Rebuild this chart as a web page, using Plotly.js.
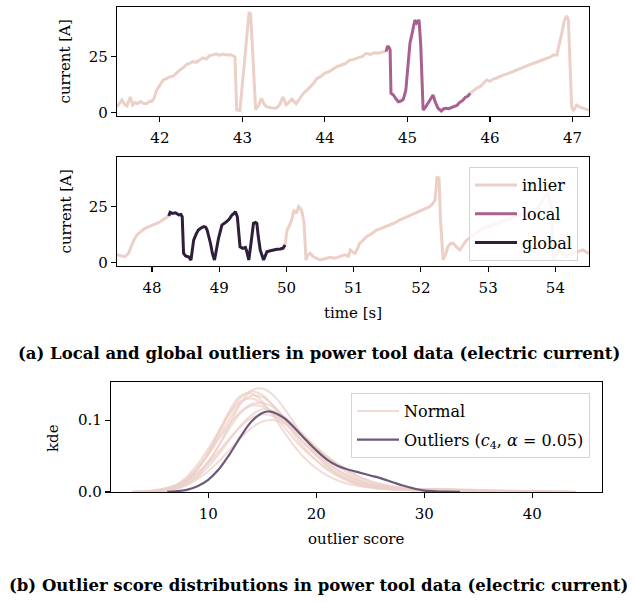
<!DOCTYPE html>
<html>
<head>
<meta charset="utf-8">
<script src="https://cdn.plot.ly/plotly-3.0.1.min.js"></script>
<style>html,body{margin:0;padding:0;background:#fff;}#chart{width:637px;height:602px;}</style>
</head>
<body>
<div id="chart"></div>
<script>
// ---------- (a) top panel: time series 41.5 s - 47.2 s ----------
const topInlierA_t = [41.48,41.51,41.54,41.57,41.60,41.64,41.67,41.70,41.73,41.76,41.80,41.84,41.87,41.90,41.93,41.96,42.00,42.04,42.08,42.12,42.16,42.20,42.24,42.28,42.32,42.36,42.40,42.44,42.48,42.52,42.56,42.60,42.64,42.68,42.72,42.76,42.81,42.86,42.91,42.93,42.97,43.08,43.10,43.16,43.20,43.23,43.26,43.29,43.35,43.41,43.45,43.49,43.53,43.56,43.60,43.65,43.70,43.74,43.78,43.82,43.86,43.90,43.94,44.00,44.05,44.10,44.14,44.20,44.25,44.30,44.35,44.40,44.45,44.50,44.55,44.60,44.64,44.69,44.74];
const topInlierA_v = [2.7,4.5,5.7,3.8,3.0,7.0,3.5,4.6,4.0,5.0,4.2,4.0,5.0,5.0,6.5,10.0,12.5,14.6,15.2,16.0,16.3,17.8,19.0,20.0,21.5,22.0,22.8,22.5,23.5,24.5,24.0,25.5,25.8,26.3,25.6,26.2,25.8,25.9,25.0,1.2,1.0,44.8,44.0,1.5,3.5,6.4,4.0,2.7,2.2,2.0,3.5,7.0,3.5,4.5,6.0,4.0,6.5,8.7,10.0,11.6,13.0,15.2,16.0,17.7,18.3,19.5,20.5,21.3,22.0,23.5,23.8,24.5,25.0,26.5,26.0,26.8,26.6,27.0,27.3];
const topLocal_t = [44.74,44.76,44.78,44.79,44.80,44.83,44.86,44.89,44.92,44.95,44.98,45.00,45.03,45.06,45.09,45.11,45.14,45.16,45.19,45.22,45.25,45.28,45.31,45.34,45.37,45.41,45.44,45.47,45.50,45.53,45.56,45.60,45.63,45.67,45.70,45.73,45.76];
const topLocal_v = [27.3,29.8,29.0,28.0,8.7,7.9,6.2,4.9,5.2,6.0,10.0,20.0,31.0,36.0,41.4,40.0,41.4,31.0,1.2,2.5,4.2,6.0,7.9,4.5,2.0,0.8,1.8,2.0,1.8,2.3,2.7,3.2,4.5,5.5,6.8,7.3,8.7];
const topInlierB_t = [45.76,45.80,45.84,45.88,45.92,45.96,46.00,46.04,46.08,46.12,46.16,46.20,46.25,46.30,46.35,46.40,46.44,46.49,46.54,46.59,46.64,46.69,46.73,46.77,46.81,46.84,46.87,46.90,46.93,46.95,46.97,46.99,47.01,47.05,47.09,47.13,47.17,47.20];
const topInlierB_v = [8.7,10.0,11.0,11.6,13.0,14.6,14.0,15.0,15.5,16.2,16.8,17.2,18.0,18.8,19.6,20.5,20.8,21.6,22.2,23.0,23.5,24.3,24.8,25.8,25.8,30.0,35.4,41.0,43.2,41.4,20.0,2.7,0.8,3.4,2.5,2.0,1.5,1.2];

// ---------- (a) middle panel: time series 47.5 s - 54.5 s ----------
const midInlierA_t = [47.48,47.50,47.55,47.60,47.65,47.70,47.73,47.78,47.83,47.88,47.93,47.97,48.02,48.07,48.12,48.17,48.21,48.25];
const midInlierA_v = [3.4,3.4,3.0,2.7,4.2,7.5,10.1,12.5,13.8,15.0,15.8,16.2,16.8,17.5,18.3,19.2,20.0,20.8];
const midGlobal_t = [48.25,48.27,48.30,48.35,48.40,48.43,48.45,48.47,48.50,48.52,48.55,48.58,48.62,48.66,48.69,48.73,48.77,48.80,48.82,48.87,48.90,48.93,48.96,48.99,49.04,49.08,49.11,49.15,49.19,49.22,49.24,49.27,49.31,49.35,49.39,49.41,49.44,49.47,49.51,49.54,49.56,49.58,49.61,49.66,49.71,49.76,49.81,49.86,49.91,49.95,49.98];
const midGlobal_v = [20.8,22.5,22.0,22.3,21.3,21.5,20.5,4.2,3.0,2.7,2.5,1.2,10.1,13.0,14.6,15.5,16.1,15.8,14.6,8.7,4.0,1.2,6.0,10.9,16.8,17.5,18.3,19.5,21.3,22.0,22.8,20.5,7.1,6.4,6.8,5.0,1.2,8.0,17.6,18.0,17.6,12.0,5.7,1.2,4.9,5.3,5.7,6.0,6.1,6.5,7.9];
const midInlierB_t = [49.98,50.01,50.05,50.08,50.11,50.15,50.18,50.20,50.23,50.26,50.28,50.29,50.32,50.35,50.40,50.45,50.50,50.57,50.65,50.72,50.80,50.87,50.92,50.95,51.00,51.02,51.06,51.09,51.14,51.19,51.26,51.34,51.40,51.47,51.54,51.61,51.69,51.76,51.83,51.89,51.96,52.03,52.08,52.13,52.18,52.21,52.24,52.27,52.29,52.33,52.37,52.40,52.44,52.48,52.53,52.58,52.63,52.68,52.75,52.81,52.88,52.94,53.00,53.07,53.14,53.21,53.27,53.34,53.40,53.47,53.54,53.61,53.67,53.74,53.80,53.85,53.89,53.92,53.94,53.97,54.01,54.06,54.11,54.16,54.22,54.28,54.34,54.41,54.46,54.50];
const midInlierB_v = [7.9,14.6,17.0,19.1,23.5,22.0,25.0,24.5,22.8,18.3,8.0,1.2,3.5,4.2,2.7,2.0,1.2,1.8,2.4,2.0,2.7,3.5,2.9,5.7,4.5,4.2,6.5,8.7,10.0,11.6,12.8,14.6,15.2,16.0,16.8,17.8,19.1,20.0,21.0,22.0,22.8,23.5,24.3,25.0,26.5,28.0,38.4,37.7,20.0,1.2,4.0,7.1,8.5,8.7,7.0,5.7,8.0,10.1,11.5,13.0,14.6,15.5,16.0,16.8,17.5,18.5,19.1,20.0,20.5,21.3,22.0,22.8,23.5,24.5,27.0,30.2,31.0,28.0,25.0,1.2,3.0,5.7,4.0,2.7,3.5,4.5,5.0,5.7,4.8,4.2];

// ---------- (b) KDE of outlier scores ----------
const kdeX = [3,5,7,8,9,10,11,12,13,14,15,16,17,18,19,20,21,22,23,24,25,26,28,30,32,34,37,40,44];
const kdeNormal1  = [0,0.0005,0.004,0.010,0.022,0.040,0.065,0.095,0.123,0.141,0.144,0.135,0.117,0.095,0.072,0.052,0.036,0.024,0.016,0.010,0.007,0.005,0.003,0.002,0.002,0.001,0.0005,0.0003,0];
const kdeNormal2  = [0,0.001,0.007,0.016,0.032,0.054,0.082,0.110,0.131,0.140,0.135,0.120,0.100,0.079,0.060,0.044,0.031,0.022,0.015,0.010,0.007,0.005,0.003,0.002,0.001,0.0008,0.0004,0.0002,0];
const kdeNormal3  = [0.0003,0.0015,0.008,0.017,0.032,0.052,0.077,0.102,0.124,0.134,0.132,0.121,0.104,0.085,0.066,0.050,0.037,0.027,0.019,0.013,0.009,0.006,0.004,0.003,0.003,0.002,0.001,0.0005,0];
const kdeNormal4  = [0.0003,0.002,0.010,0.021,0.038,0.060,0.085,0.109,0.126,0.130,0.123,0.109,0.091,0.073,0.057,0.044,0.033,0.024,0.017,0.012,0.008,0.006,0.004,0.004,0.003,0.002,0.001,0.0005,0];
const kdeNormal5  = [0,0.001,0.006,0.013,0.026,0.043,0.065,0.089,0.110,0.122,0.124,0.118,0.105,0.089,0.072,0.056,0.042,0.031,0.022,0.015,0.010,0.007,0.004,0.004,0.004,0.003,0.002,0.001,0.0002];
const kdeNormal6  = [0.0005,0.002,0.009,0.018,0.033,0.052,0.074,0.095,0.112,0.120,0.119,0.110,0.097,0.082,0.066,0.052,0.040,0.030,0.022,0.016,0.011,0.008,0.005,0.004,0.003,0.002,0.001,0.0005,0];
const kdeNormal7  = [0,0.0008,0.005,0.011,0.021,0.035,0.053,0.073,0.092,0.107,0.115,0.113,0.105,0.092,0.077,0.062,0.048,0.036,0.026,0.018,0.012,0.008,0.004,0.003,0.002,0.001,0.0005,0.0002,0];
const kdeNormal8  = [0.0005,0.002,0.008,0.015,0.026,0.040,0.057,0.075,0.091,0.103,0.108,0.106,0.099,0.088,0.075,0.062,0.049,0.038,0.029,0.021,0.015,0.010,0.005,0.004,0.004,0.003,0.002,0.001,0.0002];
const kdeNormal9  = [0,0.001,0.005,0.010,0.018,0.029,0.043,0.059,0.075,0.089,0.098,0.100,0.096,0.087,0.075,0.062,0.050,0.039,0.029,0.021,0.015,0.011,0.006,0.004,0.003,0.002,0.001,0.0005,0];
const kdeNormal10 = [0,0.0005,0.006,0.015,0.031,0.055,0.085,0.114,0.134,0.137,0.126,0.106,0.084,0.063,0.046,0.033,0.023,0.016,0.011,0.008,0.006,0.004,0.003,0.002,0.002,0.001,0.0005,0.0002,0];
const kdeOutlierX = [6.2,7,8,9,10,11,12,13,14,15,15.5,16,17,18,19,20,21,22,23,24,25,26,27,28,29,30,31,32,33.3];
const kdeOutlier  = [0.0003,0.001,0.003,0.008,0.017,0.032,0.053,0.077,0.098,0.110,0.112,0.111,0.103,0.089,0.073,0.058,0.045,0.036,0.031,0.027,0.023,0.019,0.014,0.009,0.005,0.002,0.001,0.0005,0.0002];

const tsTickVals1 = [42,43,44,45,46,47];
const tsTickVals2 = [48,49,50,51,52,53,54];
const yTickVals = [0,25];
const kdeXTicks = [10,20,30,40];
const kdeYTicks = [0,0.1];

const C_IN = '#ecd0c8', C_LOCAL = '#a8618f', C_GLOBAL = '#2e1e3b', C_OUT = '#6b5a7a';
const FONT = 'DejaVu Serif';
const tf = {family: FONT, size: 15, color: '#000'};
const lf = {family: FONT, size: 16, color: '#000'};

function ts(x, y, color, xa, ya, name, show, grp) {
  return {x: x, y: y, type: 'scatter', mode: 'lines', xaxis: xa, yaxis: ya,
    line: {color: color, width: 3}, name: name, showlegend: !!show, legend: 'legend',
    legendgroup: grp, hoverinfo: 'skip'};
}
const data = [];
data.push(ts(topInlierA_t, topInlierA_v, C_IN, 'x', 'y', 'inlier', false, 'g1'));
data.push(ts(topInlierB_t, topInlierB_v, C_IN, 'x', 'y', 'inlier', false, 'g1'));
data.push(ts(midInlierA_t, midInlierA_v, C_IN, 'x2', 'y2', 'inlier', true, 'g1'));
data.push(ts(midInlierB_t, midInlierB_v, C_IN, 'x2', 'y2', 'inlier', false, 'g1'));
data.push(ts(topLocal_t, topLocal_v, C_LOCAL, 'x', 'y', 'local', true, 'g2'));
data.push(ts(midGlobal_t, midGlobal_v, C_GLOBAL, 'x2', 'y2', 'global', true, 'g3'));

const normals = [kdeNormal1,kdeNormal2,kdeNormal3,kdeNormal4,kdeNormal5,kdeNormal6,kdeNormal7,kdeNormal8,kdeNormal9,kdeNormal10];
normals.forEach((arr, i) => {
  data.push({x: kdeX, y: arr, type: 'scatter', mode: 'lines', xaxis: 'x3', yaxis: 'y3',
    line: {color: 'rgba(236,208,200,0.75)', width: 2, shape: 'spline', smoothing: 1},
    name: 'Normal', showlegend: i === 0, legend: 'legend2', legendgroup: 'n', hoverinfo: 'skip'});
});
data.push({x: kdeOutlierX, y: kdeOutlier, type: 'scatter', mode: 'lines', xaxis: 'x3', yaxis: 'y3',
  line: {color: C_OUT, width: 2.2, shape: 'spline', smoothing: 1},
  name: 'Outliers (<i>c</i><sub>4</sub>, <i>α</i> = 0.05)', showlegend: true, legend: 'legend2',
  legendgroup: 'o', hoverinfo: 'skip'});

function ax(extra) {
  return Object.assign({showline: true, mirror: true, linecolor: '#000', linewidth: 1.2,
    ticks: 'outside', ticklen: 5, tickwidth: 1.1, tickcolor: '#000', tickfont: tf,
    showgrid: false, zeroline: false, fixedrange: true, automargin: false}, extra);
}
const W = 637, H = 602;
const px = (a, b) => [a / W, b / W];
const py = (top, bottom) => [(H - bottom) / H, (H - top) / H];

const layout = {
  width: W, height: H, margin: {l: 0, r: 0, t: 0, b: 0, pad: 0},
  paper_bgcolor: '#fff', plot_bgcolor: '#fff', font: tf,
  xaxis:  ax({domain: px(117, 589), anchor: 'y',  range: [41.48, 47.2], tickvals: tsTickVals1, ticklabelstandoff: 3}),
  yaxis:  ax({domain: py(7, 116),   anchor: 'x',  range: [-1.47, 47.19], tickvals: yTickVals}),
  xaxis2: ax({domain: px(117, 589), anchor: 'y2', range: [47.48, 54.5], tickvals: tsTickVals2, ticklabelstandoff: 3}),
  yaxis2: ax({domain: py(157, 266), anchor: 'x2', range: [-1.47, 47.19], tickvals: yTickVals}),
  xaxis3: ax({domain: px(111, 602), anchor: 'y3', range: [1.0, 46.45], tickvals: kdeXTicks, ticklabelstandoff: 3}),
  yaxis3: ax({domain: py(382, 492), anchor: 'x3', range: [0, 0.153], tickvals: kdeYTicks, tickformat: '.1f'}),
  legend: {x: 578 / W, y: (H - 167) / H, xanchor: 'right', yanchor: 'top',
    bgcolor: 'rgba(255,255,255,0.8)', bordercolor: '#d4d4d4', borderwidth: 1,
    font: lf, tracegroupgap: 5, itemwidth: 42, traceorder: 'grouped'},
  legend2: {x: 590 / W, y: (H - 393) / H, xanchor: 'right', yanchor: 'top',
    bgcolor: 'rgba(255,255,255,0.8)', bordercolor: '#d4d4d4', borderwidth: 1,
    font: lf, tracegroupgap: 5, itemwidth: 42, traceorder: 'grouped'},
  annotations: [
    {text: 'current [A]', xref: 'paper', yref: 'paper', x: 65 / W, y: (H - 61.5) / H, textangle: -90, showarrow: false, font: tf, xanchor: 'center', yanchor: 'middle'},
    {text: 'current [A]', xref: 'paper', yref: 'paper', x: 65 / W, y: (H - 211.5) / H, textangle: -90, showarrow: false, font: tf, xanchor: 'center', yanchor: 'middle'},
    {text: 'time [s]', xref: 'paper', yref: 'paper', x: 353 / W, y: (H - 313) / H, showarrow: false, font: tf, xanchor: 'center', yanchor: 'middle'},
    {text: 'kde', xref: 'paper', yref: 'paper', x: 53 / W, y: (H - 438) / H, textangle: -90, showarrow: false, font: tf, xanchor: 'center', yanchor: 'middle'},
    {text: 'outlier score', xref: 'paper', yref: 'paper', x: 356.5 / W, y: (H - 539) / H, showarrow: false, font: tf, xanchor: 'center', yanchor: 'middle'},
    {text: '<b>(a) Local and global outliers in power tool data (electric current)</b>', xref: 'paper', yref: 'paper', x: 0.5, y: (H - 353) / H, showarrow: false,
      font: {family: 'DejaVu Serif', size: 16.5, color: '#000'}, xanchor: 'center', yanchor: 'middle'},
    {text: '<b>(b) Outlier score distributions in power tool data (electric current)</b>', xref: 'paper', yref: 'paper', x: 0.5, y: (H - 585) / H, showarrow: false,
      font: {family: 'DejaVu Serif', size: 16.5, color: '#000'}, xanchor: 'center', yanchor: 'middle'}
  ]
};
Plotly.newPlot('chart', data, layout, {staticPlot: true, displayModeBar: false});
</script>
</body>
</html>
